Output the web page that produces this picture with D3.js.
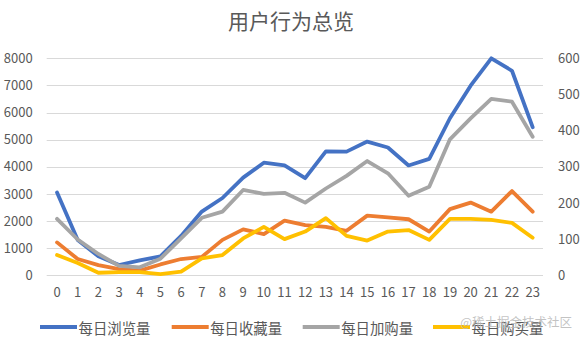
<!DOCTYPE html>
<html>
<head>
<meta charset="utf-8">
<script src="https://cdn.jsdelivr.net/npm/d3@7"></script>
<style>
  html, body { margin: 0; padding: 0; background: #fff; }
  svg { display: block; }
  text { font-family: "Noto Sans CJK SC", "Noto Sans", sans-serif; }
</style>
</head>
<body>
<svg id="chart" width="584" height="339"></svg>
<script>
// Hours of the day
const hours = d3.range(0, 24).map(String);

// Hourly counts per behaviour
const browse = [3050,1300,700,380,550,700,1450,2350,2850,3600,4150,4050,3580,4570,4560,4930,4710,4050,4290,5790,6990,8000,7540,5460];
const favorite = [91,45,28,17,13,30,45,51,98,127,114,151,139,134,123,165,160,155,121,183,201,176,233,176];
const cart = [156,99,59,26,22,46,102,159,176,236,225,228,201,240,275,316,282,220,245,376,434,488,480,383];
const buy = [56,34,7,9,9,3,10,47,56,102,134,100,121,158,109,96,121,125,98,156,156,153,145,104];

const leftTicks = [0,1000,2000,3000,4000,5000,6000,7000,8000];
const rightTicks = [0,100,200,300,400,500,600];

const seriesNames = ["每日浏览量", "每日收藏量", "每日加购量", "每日购买量"];
const seriesColors = ["#4472C4", "#ED7D31", "#A5A5A5", "#FFC000"];

const svg = d3.select("#chart");
const plot = { left: 46.7, right: 543, top: 58.3, bottom: 275.3 };
const textColor = "#595959";

const x = d3.scaleBand().domain(hours).range([plot.left, plot.right]).padding(0);
const yLeft = d3.scaleLinear().domain([0, 8000]).range([plot.bottom, plot.top]);
const yRight = d3.scaleLinear().domain([0, 600]).range([plot.bottom, plot.top]);

// Title
svg.append("text")
  .attr("x", 291).attr("y", 19.5)
  .attr("text-anchor", "middle").attr("dominant-baseline", "central")
  .attr("font-size", 21).attr("fill", textColor)
  .text("用户行为总览");

// Gridlines
svg.append("g")
  .selectAll("line").data(leftTicks).join("line")
  .attr("x1", plot.left).attr("x2", plot.right)
  .attr("y1", d => Math.round(yLeft(d)) + 0.5).attr("y2", d => Math.round(yLeft(d)) + 0.5)
  .attr("stroke", "#D9D9D9").attr("stroke-width", 1);

// Left axis
const gl = svg.append("g").attr("transform", `translate(${plot.left},0)`)
  .call(d3.axisLeft(yLeft).tickValues(leftTicks).tickSize(0).tickPadding(14).tickFormat(d3.format("d")));
gl.select(".domain").remove();
gl.selectAll("text").attr("font-size", 13).attr("fill", textColor)
  .attr("font-family", "'Liberation Sans', Arial, sans-serif");

// Right axis
const gr = svg.append("g").attr("transform", `translate(${plot.right},0)`)
  .call(d3.axisRight(yRight).tickValues(rightTicks).tickSize(0).tickPadding(15).tickFormat(d3.format("d")));
gr.select(".domain").remove();
gr.selectAll("text").attr("font-size", 13).attr("fill", textColor)
  .attr("font-family", "'Liberation Sans', Arial, sans-serif");

// Bottom axis
const gb = svg.append("g").attr("transform", `translate(0,${plot.bottom})`)
  .call(d3.axisBottom(x).tickSize(0).tickPadding(12));
gb.select(".domain").remove();
gb.selectAll("text").attr("font-size", 13).attr("fill", textColor)
  .attr("font-family", "'Liberation Sans', Arial, sans-serif");

// Lines
const cx = h => x(h) + x.bandwidth() / 2;
const series = [
  { values: browse, y: yLeft },
  { values: favorite, y: yRight },
  { values: cart, y: yRight },
  { values: buy, y: yRight }
];
series.forEach((s, i) => {
  const line = d3.line().x((d, j) => cx(hours[j])).y(d => s.y(d));
  svg.append("path")
    .datum(s.values)
    .attr("d", line)
    .attr("fill", "none")
    .attr("stroke", seriesColors[i])
    .attr("stroke-width", 3.8)
    .attr("stroke-linejoin", "round")
    .attr("stroke-linecap", "round");
});

// Legend
const legendX = [40, 171.7, 302.7, 433];
const legendY = 327;
const lg = svg.append("g");
seriesNames.forEach((name, i) => {
  lg.append("line")
    .attr("x1", legendX[i]).attr("x2", legendX[i] + 37)
    .attr("y1", legendY).attr("y2", legendY)
    .attr("stroke", seriesColors[i]).attr("stroke-width", 3.8);
  lg.append("text")
    .attr("x", legendX[i] + 38.5).attr("y", legendY)
    .attr("dominant-baseline", "central")
    .attr("font-size", 14.4).attr("fill", textColor)
    .text(name);
});

// Site mark
svg.append("text")
  .attr("x", 572).attr("y", 321.5)
  .attr("text-anchor", "end").attr("dominant-baseline", "central")
  .attr("font-size", 12.5).attr("fill", "#b8b8b8").attr("fill-opacity", 0.85)
  .text("@稀土掘金技术社区");
</script>
</body>
</html>
